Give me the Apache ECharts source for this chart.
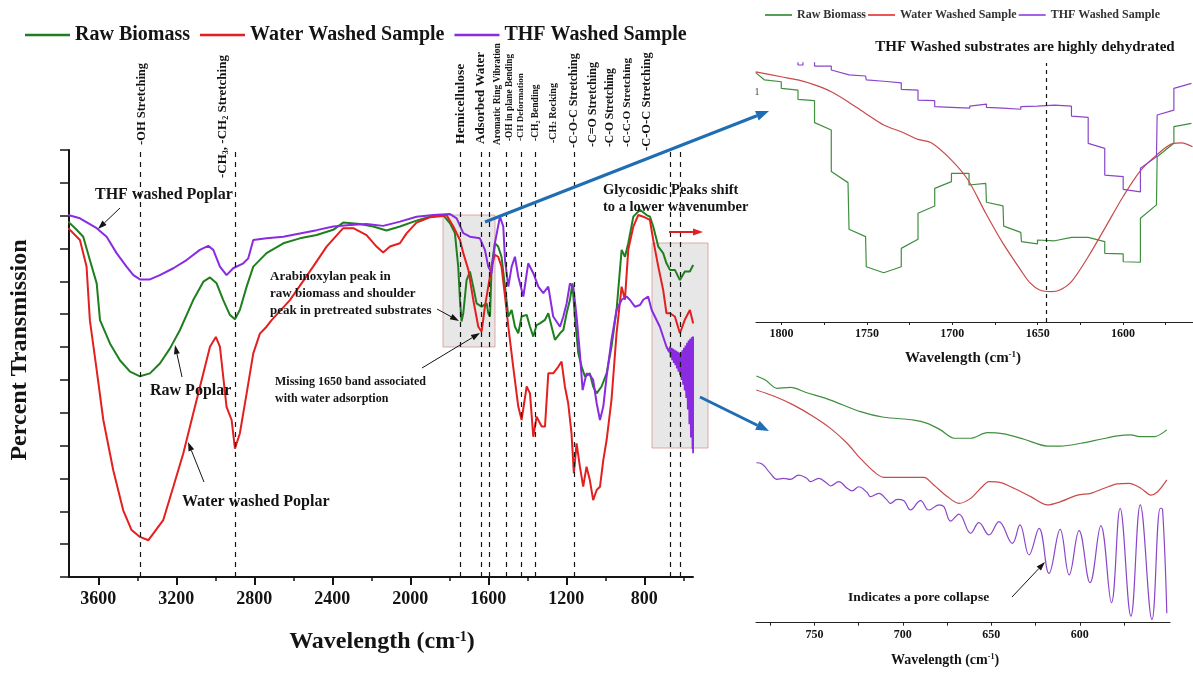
<!DOCTYPE html>
<html><head><meta charset="utf-8">
<script src="https://cdn.jsdelivr.net/npm/echarts@6/dist/echarts.min.js"></script>
<style>html,body{margin:0;padding:0;background:#fff}#c{width:1193px;height:677px}</style>
</head><body><div id="c"></div>
<script>
const seriesNames = ['Raw Biomass', 'Water Washed Sample', 'THF Washed Sample'];

// Main spectrum: [wavenumber cm-1, relative transmission]
const mainRaw = [[3754,108.2],[3711,105.7],[3677,103.6],[3643,96.5],[3608,89.4],[3591,78.2],[3540,71.1],[3489,66.0],[3437,62.5],[3386,61.1],[3335,62.0],[3284,65.0],[3232,69.6],[3181,75.2],[3113,84.3],[3061,89.9],[3027,91.2],[2993,89.4],[2959,84.3],[2925,79.8],[2899,78.5],[2874,81.3],[2839,88.4],[2805,94.5],[2737,98.6],[2651,101.6],[2566,103.1],[2480,104.1],[2395,105.7],[2344,107.9],[2258,107.5],[2190,106.7],[2122,105.5],[2053,106.7],[1968,108.5],[1899,109.7],[1831,110.2],[1796,107.7],[1771,104.7],[1754,94.5],[1745,84.3],[1737,77.8],[1728,80.3],[1711,90.4],[1694,93.0],[1677,88.4],[1660,83.3],[1634,82.3],[1608,83.3],[1600,80.3],[1591,79.3],[1583,94.5],[1566,101.6],[1549,100.6],[1532,97.5],[1514,88.4],[1497,79.3],[1480,81.3],[1463,76.2],[1446,74.2],[1429,79.3],[1403,79.8],[1386,76.2],[1369,73.2],[1352,76.7],[1335,77.2],[1309,78.3],[1292,80.3],[1275,76.2],[1258,72.2],[1232,74.2],[1215,75.2],[1198,80.3],[1181,84.4],[1168,89.4],[1156,79.3],[1138,68.1],[1121,64.0],[1104,61.0],[1079,62.0],[1062,58.0],[1044,55.9],[1019,58.0],[993,62.0],[968,70.1],[942,81.3],[916,99.6],[899,97.5],[882,101.6],[856,109.7],[822,111.8],[788,110.2],[771,109.7],[754,106.7],[728,100.6],[703,98.6],[686,95.5],[668,93.5],[643,93.5],[617,90.4],[592,93.0],[566,93.0],[549,95.0]];
const mainWater = [[3754,106.2],[3694,102.6],[3660,94.5],[3643,78.2],[3608,63.0],[3574,47.8],[3523,32.5],[3472,20.3],[3429,14.3],[3386,12.2],[3343,11.2],[3318,13.2],[3267,17.3],[3215,27.5],[3164,37.6],[3113,49.8],[3061,62.0],[3027,70.1],[2997,73.1],[2976,70.1],[2942,51.8],[2916,47.8],[2899,39.1],[2874,43.7],[2839,55.9],[2805,68.1],[2771,74.1],[2737,76.2],[2711,78.2],[2617,84.3],[2498,94.5],[2429,100.6],[2344,106.2],[2292,106.2],[2224,104.1],[2173,100.6],[2139,98.8],[2104,100.6],[2053,101.6],[2019,104.6],[1968,107.9],[1899,109.5],[1831,109.9],[1814,110.2],[1779,106.7],[1745,102.6],[1728,98.6],[1702,93.5],[1677,84.4],[1651,76.2],[1634,74.7],[1617,82.3],[1600,88.4],[1583,94.5],[1566,98.1],[1549,97.5],[1532,94.5],[1514,85.4],[1497,76.2],[1472,64.0],[1446,51.9],[1429,47.8],[1403,58.0],[1386,55.9],[1369,42.7],[1352,48.8],[1326,45.8],[1309,45.8],[1292,62.0],[1267,62.0],[1241,64.0],[1224,65.6],[1207,58.0],[1190,52.9],[1173,43.7],[1161,31.6],[1147,40.7],[1130,33.6],[1113,27.5],[1096,33.6],[1079,29.5],[1062,23.4],[1044,26.5],[1027,27.5],[1010,35.6],[993,41.7],[968,53.9],[942,74.2],[916,88.4],[899,84.4],[882,99.6],[856,106.7],[831,110.2],[805,109.7],[771,108.7],[754,102.6],[728,94.5],[703,87.4],[686,80.3],[668,80.3],[643,79.3],[617,74.2],[592,78.3],[566,81.3],[549,77.2]];
const mainTHF = [[3754,110.2],[3694,109.2],[3608,106.2],[3557,103.6],[3506,98.6],[3455,94.5],[3420,91.9],[3386,90.6],[3335,90.6],[3284,91.9],[3215,94.0],[3147,96.5],[3079,99.6],[3036,100.8],[3010,99.6],[2976,94.5],[2942,91.9],[2908,94.0],[2856,95.5],[2831,97.0],[2805,102.6],[2737,103.1],[2651,103.6],[2566,104.6],[2480,105.6],[2395,106.7],[2309,107.2],[2224,107.5],[2139,106.9],[2053,108.2],[1968,109.7],[1882,110.2],[1796,110.5],[1762,109.2],[1728,104.7],[1694,103.6],[1643,103.1],[1617,99.6],[1600,94.5],[1583,92.5],[1566,101.6],[1540,109.7],[1523,106.7],[1514,96.5],[1497,88.4],[1480,94.5],[1463,97.5],[1446,91.4],[1420,85.4],[1395,95.5],[1369,92.5],[1343,88.4],[1318,86.4],[1292,88.4],[1267,79.3],[1232,76.2],[1215,79.3],[1198,83.3],[1181,89.4],[1164,88.4],[1147,79.3],[1130,68.1],[1116,56.9],[1096,62.0],[1079,61.5],[1062,60.0],[1044,52.9],[1027,47.8],[1010,51.9],[993,61.0],[968,72.2],[942,81.3],[916,84.4],[891,85.4],[874,84.4],[848,82.3],[822,82.8],[805,84.4],[780,85.4],[762,81.3],[720,76.2],[686,70.1],[676,70.6],[672,68.5],[668,70.1],[664,66.8],[660,69.8],[656,66.0],[652,69.5],[648,65.2],[644,69.2],[640,64.5],[636,68.9],[632,63.5],[628,68.6],[624,62.5],[620,68.3],[616,61.5],[612,68.4],[608,60.0],[604,69.0],[600,58.5],[596,69.8],[592,56.8],[588,70.5],[584,54.5],[580,71.3],[576,51.0],[572,72.0],[568,46.5],[564,72.5],[560,42.5],[556,73.0],[552,39.0],[550,73.2],[549,37.7]];

// Upper inset (1815-1559 cm-1)
const topRaw = [[1815.2,95.2],[1810.0,92.4],[1800.2,91.7],[1800.2,89.2],[1790.4,88.5],[1790.4,85.0],[1780.7,84.5],[1780.7,76.1],[1770.9,73.3],[1770.9,57.4],[1761.1,53.2],[1760.5,35.4],[1750.8,32.6],[1750.4,21.1],[1740.2,18.8],[1729.9,21.1],[1729.9,28.1],[1720.1,31.6],[1720.1,41.5],[1710.3,44.3],[1710.3,51.0],[1700.5,53.6],[1700.5,56.7],[1690.2,56.7],[1690.2,52.3],[1680.4,52.9],[1680.0,45.7],[1670.3,44.3],[1669.9,36.6],[1659.9,34.2],[1659.5,30.7],[1650.1,29.8],[1650.1,31.3],[1640.0,31.0],[1630.2,32.3],[1620.4,32.3],[1610.7,30.7],[1610.7,26.2],[1599.9,26.0],[1599.9,23.0],[1589.8,22.8],[1589.8,39.6],[1580.4,44.7],[1580.0,63.1],[1570.2,68.2],[1570.2,74.6],[1559.9,75.8]];
const topWater = [[1815.2,95.5],[1800.2,93.6],[1790.4,92.4],[1780.7,90.5],[1770.9,87.9],[1761.1,84.1],[1750.8,79.6],[1740.2,75.2],[1729.9,72.6],[1720.1,69.7],[1712.3,68.4],[1700.5,61.8],[1690.8,54.2],[1680.4,41.5],[1670.3,30.0],[1659.9,19.8],[1654.6,15.0],[1648.8,12.2],[1641.9,11.6],[1637.0,12.2],[1630.2,15.4],[1620.4,24.9],[1610.1,36.4],[1600.0,47.8],[1590.2,57.4],[1580.4,63.7],[1570.6,68.2],[1565.7,68.4],[1559.3,66.9]];
const topTHF = [[1815.2,102],[1790.4,102],[1790.4,98.1],[1787.5,98.1],[1787.5,101],[1780.7,101],[1780.7,97.7],[1770.9,97.7],[1770.9,96.2],[1760.5,94.3],[1750.8,93.9],[1750.4,92.4],[1740.2,91.9],[1729.9,91.3],[1729.9,88.8],[1720.1,88.5],[1720.1,84.7],[1710.3,84.5],[1710.3,82.2],[1700.5,81.9],[1699.6,81.2],[1689.8,81.6],[1689.8,82.4],[1680.0,83.2],[1680.0,81.9],[1670.3,81.6],[1659.9,81.2],[1659.9,82.2],[1650.1,82.4],[1640.0,82.8],[1630.2,82.4],[1630.2,78.6],[1620.4,78.1],[1620.4,68.2],[1610.7,66.3],[1610.7,56.1],[1599.9,55.5],[1599.9,50.6],[1589.8,49.7],[1589.8,58.7],[1580.4,63.1],[1580.0,79.0],[1570.2,80.9],[1570.2,89.2],[1559.9,91.1]];

// Lower inset (783-549 cm-1)
const lowRaw = [[782.8,97.6],[777.7,96.0],[771.1,92.7],[763.6,93.1],[754.2,91.0],[740.9,88.1],[724.0,83.5],[710.8,81.3],[693.8,80.2],[686.2,78.9],[678.7,76.3],[671.1,73.0],[661.7,73.0],[652.3,75.2],[642.8,74.7],[631.5,72.6],[618.3,69.9],[610.8,69.9],[599.4,71.0],[588.1,72.6],[578.7,73.9],[571.1,74.3],[565.5,73.6],[557.9,73.6],[550.8,76.3]];
const lowWater = [[782.8,92.1],[773.0,89.7],[761.7,86.1],[750.4,81.5],[740.9,76.9],[731.5,71.0],[724.0,65.0],[716.4,59.8],[710.8,57.5],[697.5,57.5],[688.1,57.5],[682.5,54.5],[674.9,49.9],[668.3,47.2],[661.7,49.2],[656.0,53.2],[651.3,55.8],[644.7,55.4],[637.2,53.2],[627.7,49.9],[618.3,46.6],[610.8,47.9],[601.3,50.5],[593.8,51.2],[586.2,53.2],[578.7,54.9],[572.1,55.1],[565.5,53.2],[559.8,50.5],[556.0,51.8],[550.8,56.5]];
const lowTHF = [[782.8,63.3],[779.6,62.8],[774.9,59.1],[771.1,56.7],[767.4,57.1],[763.6,56.7],[758.9,58.4],[754.2,57.1],[752.3,55.8],[747.5,57.1],[742.8,55.1],[740.9,54.1],[736.2,55.8],[731.5,53.2],[728.7,52.2],[724.9,53.8],[720.2,51.5],[718.3,49.9],[713.6,51.2],[708.9,48.5],[707.0,47.2],[703.2,48.8],[699.4,48.3],[695.7,44.6],[690.0,48.3],[685.3,44.6],[679.6,46.6],[676.8,45.9],[673.0,40.2],[668.3,43.0],[661.7,35.4],[657.0,39.6],[651.3,34.7],[645.7,40.0],[638.1,31.4],[633.8,38.7],[628.7,26.8],[623.0,37.3],[617.4,19.5],[611.1,36.9],[606.0,18.9],[600.4,36.4],[594.2,15.8],[588.1,38.4],[582.1,7.9],[577.2,45.3],[571.1,2.6],[565.8,46.6],[559.2,1.3],[554.5,45.3],[553.2,44.9],[550.8,3.7]];

// Tick values
const mainLabelTicks = [800,1200,1600,2000,2400,2800,3200,3600];
const mainMinorTicks = [600,1000,1400,1800,2200,2600,3000,3400];
const topLabelTicks = [1600,1650,1700,1750,1800];
const topAllTicks = [1575,1600,1625,1650,1675,1700,1725,1750,1775,1800];
const lowLabelTicks = [600,650,700,750];
const lowAllTicks = [575,600,625,650,675,700,725,750,775];
// Band assignment reference lines (cm-1)
const bandLines = [3386,2897,1742,1634,1595,1509,1429,1361,1161,668,613];
const dehydrationLine = 1645;

const SERIF = '"Liberation Serif","Times New Roman",serif';
const C_MAIN = ['#1f7f1f', '#e41f1f', '#8a2be2'];
const C_INSET = ['#3f8f3f', '#c84a4a', '#8b45c9'];
const INK = '#141414';
const plainNum = v => String(v);

function arrow(x1, y1, x2, y2, color, w, hl, hw) {
  const a = Math.atan2(y2 - y1, x2 - x1);
  const bx = x2 - hl * Math.cos(a), by = y2 - hl * Math.sin(a);
  const px = -Math.sin(a) * hw / 2, py = Math.cos(a) * hw / 2;
  return [
    {type: 'line', z: 100, shape: {x1: x1, y1: y1, x2: bx, y2: by}, style: {stroke: color, lineWidth: w}},
    {type: 'polygon', z: 100, shape: {points: [[x2, y2], [bx + px, by + py], [bx - px, by - py]]}, style: {fill: color}}
  ];
}
function txt(x, y, text, size, align) {
  return {type: 'text', z: 100, x: x, y: y, style: {text: text, font: 'bold ' + size + 'px ' + SERIF, fill: INK,
    align: align || 'left', textAlign: align || 'left', verticalAlign: 'middle', textVerticalAlign: 'middle'}};
}
function richTxt(x, y, text, size, rot, align) {
  return {type: 'text', z: 100, x: x, y: y, rotation: rot || 0, style: {text: text,
    align: align || 'left', textAlign: align || 'left', verticalAlign: 'middle', textVerticalAlign: 'middle',
    rich: {
      a: {fontSize: size, fontWeight: 'bold', fontFamily: SERIF, fill: INK},
      b: {fontSize: Math.round(size * 0.65), fontWeight: 'bold', fontFamily: SERIF, fill: INK, verticalAlign: 'bottom'},
      s: {fontSize: Math.round(size * 0.6), fontWeight: 'bold', fontFamily: SERIF, fill: INK, verticalAlign: 'top'}
    }}};
}
function vtxt(x, y, text, size) { return richTxt(x, y, text, size, Math.PI / 2, 'left'); }

const annotations = [].concat(
  [
    {type: 'rect', z: 3, shape: {x: 443, y: 215, width: 52, height: 132}, style: {fill: 'rgba(170,170,170,0.28)', stroke: 'rgba(215,150,150,0.8)', lineWidth: 1}},
    {type: 'rect', z: 3, shape: {x: 652, y: 243, width: 56, height: 205}, style: {fill: 'rgba(170,170,170,0.28)', stroke: 'rgba(215,150,150,0.8)', lineWidth: 1}},
    vtxt(142, 145, '{a|-OH Stretching}', 12.5),
    vtxt(223, 178, '{a|-CH}{b|3}{a|, -CH}{b|2}{a| Stretching}', 13),
    vtxt(461, 144, '{a|Hemicellulose}', 13.5),
    vtxt(481, 144, '{a|Adsorbed Water}', 13),
    vtxt(498, 145, '{a|Aromatic Ring Vibration}', 9.5),
    vtxt(510, 141, '{a|-OH in plane Bending}', 9.3),
    vtxt(521, 141, '{a|-CH Deformation}', 9),
    vtxt(536, 141, '{a|-CH}{b|2}{a| Bending}', 9.5),
    vtxt(553, 143, '{a|-CH}{b|2}{a| Rocking}', 10),
    vtxt(574, 148, '{a|-C-O-C Stretching}', 12),
    vtxt(593, 147, '{a|-C=O Stretching}', 12),
    vtxt(610, 147, '{a|-C-O Stretching}', 11.5),
    vtxt(627, 147, '{a|-C-C-O Stretching}', 11.3),
    vtxt(647, 151, '{a|-C-O-C Stretching}', 12.5),
    txt(95, 195, 'THF washed Poplar', 16),
    txt(150, 391, 'Raw Poplar', 16),
    txt(182, 502, 'Water washed Poplar', 16),
    txt(270, 277, 'Arabinoxylan peak in', 13),
    txt(270, 294, 'raw biomass and shoulder', 13),
    txt(270, 311, 'peak in pretreated substrates', 13),
    txt(275, 382, 'Missing 1650 band associated', 12),
    txt(275, 399, 'with water adsorption', 12),
    txt(603, 190, 'Glycosidic Peaks shift', 14.5),
    txt(603, 207, 'to a lower wavenumber', 14.5),
    txt(1025, 47, 'THF Washed substrates are highly dehydrated', 15, 'center'),
    {type: 'text', z: 100, x: 757, y: 92, style: {text: '1', font: '10px ' + SERIF, fill: '#444', align: 'center', textAlign: 'center', verticalAlign: 'middle', textVerticalAlign: 'middle'}},
    txt(848, 598, 'Indicates a pore collapse', 13.5),
    richTxt(382, 642, '{a|Wavelength (cm}{s|-1}{a|)}', 24, 0, 'center'),
    richTxt(20, 350, '{a|Percent Transmission}', 24, Math.PI / 2, 'center'),
    richTxt(963, 358, '{a|Wavelength (cm}{s|-1}{a|)}', 15, 0, 'center'),
    richTxt(945, 660, '{a|Wavelength (cm}{s|-1}{a|)}', 14, 0, 'center')
  ],
  arrow(120, 208, 98, 229, INK, 1, 9, 6),
  arrow(182, 377, 175, 345, INK, 1, 9, 6),
  arrow(204, 482, 188, 442, INK, 1, 9, 6),
  arrow(437, 309, 459, 321, INK, 1, 9, 6),
  arrow(422, 368, 480, 333, INK, 1, 9, 6),
  arrow(1012, 597, 1045, 562, INK, 1, 9, 6),
  arrow(669, 232, 703, 232, '#e41f1f', 2, 10, 7),
  arrow(485, 222, 769, 111, '#1f6db3', 3, 13, 10),
  arrow(700, 397, 769, 431, '#1f6db3', 3, 13, 10)
);

function lineSeries(name, data, xi, color, width, extra) {
  return Object.assign({
    name: name, type: 'line', xAxisIndex: xi, yAxisIndex: xi, data: data,
    symbol: 'none', showSymbol: false, animation: false, silent: true,
    lineStyle: {color: color, width: width}, itemStyle: {color: color}
  }, extra || {});
}

const axisFont = {fontFamily: SERIF, fontWeight: 'bold', color: INK, formatter: plainNum};
const option = {
  animation: false,
  backgroundColor: '#fff',
  grid: [
    {left: 69, top: 150, width: 624, height: 427},
    {left: 756, top: 62.9, width: 437, height: 259.1},
    {left: 756, top: 370, width: 414, height: 252.7},
    {left: 69, top: 150, width: 624, height: 427}
  ],
  legend: [
    {data: seriesNames, left: 25, top: 25, padding: 0, itemWidth: 45, itemHeight: 2.5, icon: 'rect', itemGap: 10,
     textStyle: {fontFamily: SERIF, fontWeight: 'bold', fontSize: 20, color: INK}},
    {data: seriesNames, left: 765, top: 9, padding: 0, itemWidth: 27, itemHeight: 1.5, icon: 'rect', itemGap: 2,
     textStyle: {fontFamily: SERIF, fontWeight: 'bold', fontSize: 12, color: '#333'}}
  ],
  xAxis: [
    {gridIndex: 0, type: 'value', min: 550, max: 3750, inverse: true, splitLine: {show: false},
     axisLine: {lineStyle: {color: INK, width: 2}},
     axisTick: {customValues: mainLabelTicks, length: 8, lineStyle: {color: INK, width: 2}},
     axisLabel: Object.assign({customValues: mainLabelTicks, fontSize: 18, margin: 13}, axisFont)},
    {gridIndex: 1, type: 'value', min: 1559, max: 1815, inverse: true, splitLine: {show: false},
     axisLine: {lineStyle: {color: '#222', width: 1.2}},
     axisTick: {customValues: topAllTicks, length: 3, lineStyle: {color: '#222'}},
     axisLabel: Object.assign({customValues: topLabelTicks, fontSize: 12, margin: 6}, axisFont)},
    {gridIndex: 2, type: 'value', min: 549, max: 783, inverse: true, splitLine: {show: false},
     axisLine: {lineStyle: {color: '#222', width: 1.2}},
     axisTick: {customValues: lowAllTicks, length: 3, lineStyle: {color: '#222'}},
     axisLabel: Object.assign({customValues: lowLabelTicks, fontSize: 12, margin: 6}, axisFont)},
    {gridIndex: 3, type: 'value', min: 550, max: 3750, inverse: true, splitLine: {show: false},
     axisLine: {show: false}, axisLabel: {show: false},
     axisTick: {customValues: mainMinorTicks, length: 4, lineStyle: {color: INK, width: 1.5}}}
  ],
  yAxis: [
    {gridIndex: 0, type: 'value', min: 0, max: 130, interval: 10, splitLine: {show: false},
     axisLine: {show: true, lineStyle: {color: INK, width: 2}},
     axisTick: {show: true, length: 9, lineStyle: {color: INK, width: 1.5}}, axisLabel: {show: false}},
    {gridIndex: 1, type: 'value', min: 0, max: 98.9, show: false},
    {gridIndex: 2, type: 'value', min: 0, max: 100, show: false},
    {gridIndex: 3, type: 'value', min: 0, max: 130, show: false}
  ],
  series: [
    lineSeries(seriesNames[0], mainRaw, 0, C_MAIN[0], 2, {
      markLine: {silent: true, animation: false, symbol: ['none', 'triangle'], symbolSize: [0, 9],
        label: {show: false}, lineStyle: {color: INK, width: 1.2, type: [5, 5]},
        data: bandLines.map(v => [{coord: [v, 0]}, {coord: [v, 130]}])}
    }),
    lineSeries(seriesNames[1], mainWater, 0, C_MAIN[1], 2),
    lineSeries(seriesNames[2], mainTHF, 0, C_MAIN[2], 2),
    lineSeries(seriesNames[0], topRaw, 1, C_INSET[0], 1.2),
    lineSeries(seriesNames[1], topWater, 1, C_INSET[1], 1.2, {smooth: 0.3}),
    lineSeries(seriesNames[2], topTHF, 1, C_INSET[2], 1.2, {
      markLine: {silent: true, animation: false, symbol: ['none', 'triangle'], symbolSize: [0, 8],
        label: {show: false}, lineStyle: {color: INK, width: 1.2, type: [4, 4]},
        data: [[{coord: [dehydrationLine, 0]}, {coord: [dehydrationLine, 98.9]}]]}
    }),
    lineSeries(seriesNames[0], lowRaw, 2, C_INSET[0], 1.2, {smooth: 0.3}),
    lineSeries(seriesNames[1], lowWater, 2, C_INSET[1], 1.2, {smooth: 0.3}),
    lineSeries(seriesNames[2], lowTHF, 2, C_INSET[2], 1.2, {smooth: 0.4})
  ],
  graphic: {elements: annotations}
};
const chart = echarts.init(document.getElementById('c'), null, {renderer: 'canvas'});
chart.setOption(option);
</script>
</body></html>
